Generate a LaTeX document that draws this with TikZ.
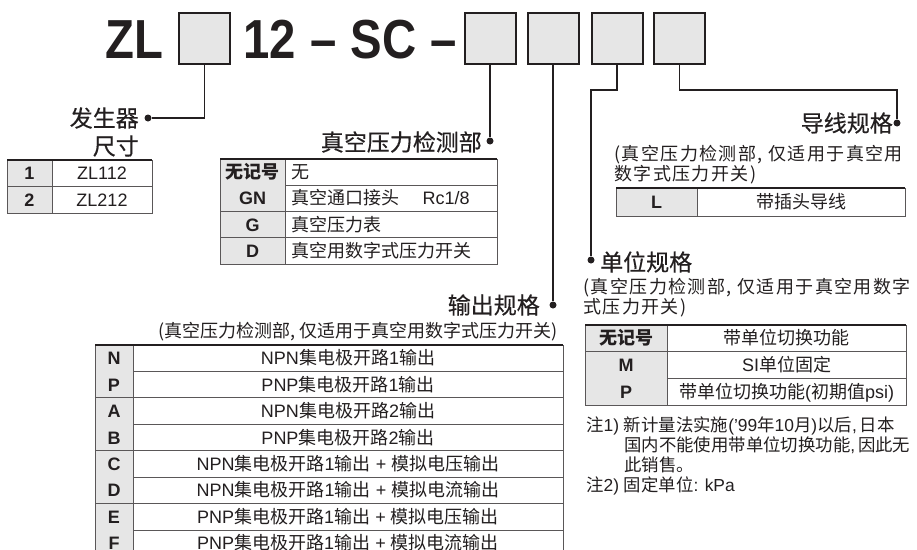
\documentclass[tikz,border=0pt]{standalone}
\usepackage{fontspec}
\setmainfont{Liberation Sans}
\newfontfamily\cjk{Noto Sans CJK SC}
\newfontfamily\cjkwide{Noto Sans CJK SC}[LetterSpace=8]
\newfontfamily\cjkhead{Noto Sans CJK SC}[FakeBold=0.4]
\newfontfamily\titlefont{Liberation Sans Bold}[FakeStretch=0.86]
\usepackage{tikz}
\usetikzlibrary{positioning}
\definecolor{ink}{HTML}{231F20}
\definecolor{keygray}{HTML}{E6E6E6}
\newcommand{\zh}[1]{{\cjk #1}}

\begin{document}
\begin{tikzpicture}[x=1pt, y=-1pt,
    codebox/.style={draw=ink, line width=2pt, fill=keygray, minimum width=51pt, minimum height=51pt, inner sep=0pt},
    title/.style={font=\titlefont\fontsize{55}{60}\selectfont, text=ink, inner sep=0pt, anchor=base},
    head/.style={font=\cjkhead\fontsize{23}{26}\selectfont, text=ink, inner sep=0pt},
    sub/.style={font=\cjk\fontsize{18}{21}\selectfont, text=ink, inner sep=0pt},
    subwide/.style={sub, font=\cjkwide\fontsize{18}{21}\selectfont},
    cell/.style={font=\fontsize{18}{20}\selectfont, text=ink, inner sep=0pt, text height=13pt, text depth=0pt},
    key/.style={cell, font=\bfseries\fontsize{18}{20}\selectfont},
    note/.style={cell, font=\fontsize{17.4}{20}\selectfont, anchor=west},
    lead/.style={draw=ink, line width=1.5pt},
    dot/.style={circle, fill=ink, inner sep=0pt, minimum size=7pt},
    rule/.style={draw=ink!75, line width=0.9pt},
    toprule/.style={draw=ink, line width=2pt}]

\clip (0,0) rectangle (917,549);
\fill[white] (0,0) rectangle (917,549);

% model code
\node[title] (zl) at (134,58) {ZL};
\node[title] (num) at (270,58) {12};
\node[title] (dasha) at (323.5,58) {–};
\node[title] (sc) at (383.5,58) {SC};
\node[title] (dashb) at (444,58) {–};

\node[codebox] (b1) at (204.5,38.5) {};
\node[codebox] (b2) at (490,38.5) {};
\node[codebox] (b3) at (553,38.5) {};
\node[codebox] (b4) at (617,38.5) {};
\node[codebox] (b5) at (679.5,38.5) {};

% leaders
\node[dot] (d1) at (148,118) {};
\node[dot] (d2) at (490,141) {};
\node[dot] (d3) at (553,305) {};
\node[dot] (d4) at (591,260) {};
\node[dot] (d5) at (897,123) {};

\draw[lead] (b1.south) |- (d1);
\draw[lead] (b2.south) -- (d2);
\draw[lead] (b3.south) -- (d3);
\draw[lead] (b4.south) -- ++(0,25) -| (d4);
\draw[lead] (b5.south) -- ++(0,25) -| (d5);

% headings
\node[head, anchor=east] (gen) at (139,118) {发生器};
\node[head, anchor=east] (gensize) at (139,146) {尺寸};
\node[head, anchor=east] (vac) at (482,142) {真空压力检测部};
\node[head, anchor=east] (out) at (540,305) {输出规格};
\node[head, anchor=east] (wire) at (893,123) {导线规格};
\node[head, anchor=west] (unit) at (600,262) {单位规格};

\node[sub, anchor=east] (outsub) at (558,332) {(真空压力检测部, 仅适用于真空用数字式压力开关)};
\node[subwide, anchor=west] (wiresuba) at (614,155) {(真空压力检测部, 仅适用于真空用};
\node[subwide, anchor=west] (wiresubb) at (614,175) {数字式压力开关)};
\node[subwide, anchor=west] (unitsuba) at (583,288) {(真空压力检测部, 仅适用于真空用数字};
\node[subwide, anchor=west] (unitsubb) at (583,308) {式压力开关)};

% size table
\foreach \k/\v [count=\i from 0] in {1/ZL112, 2/ZL212} {
  \fill[keygray] (7,160+26.5*\i) rectangle (52,186.5+26.5*\i);
  \node[key] (sk\i) at (29.5,173.25+26.5*\i) {\k};
  \node[cell] (sv\i) at (102,173.25+26.5*\i) {\v};
  \draw[rule] (7,186.5+26.5*\i) -- (152,186.5+26.5*\i);
}
\draw[rule] (7,160) rectangle (152,213);
\draw[rule] (52,160) -- (52,213);
\draw[toprule] (7,160) -- (152,160);

% vacuum port table
\foreach \k/\v [count=\i from 0] in {\zh{无记号}/\zh{无}, GN/{\zh{真空通口接头}\hspace{1.3em}Rc1/8}, G/\zh{真空压力表}, D/\zh{真空用数字式压力开关}} {
  \fill[keygray] (220,159+26.25*\i) rectangle (285,185.25+26.25*\i);
  \node[key] (vk\i) at (252.5,172.1+26.25*\i) {\k};
  \node[cell, anchor=west] (vv\i) at (291,172.1+26.25*\i) {\v};
  \draw[rule] (220,185.25+26.25*\i) -- (497,185.25+26.25*\i);
}
\draw[rule] (220,159) rectangle (497,264);
\draw[rule] (285,159) -- (285,264);
\draw[toprule] (220,159) -- (497,159);

% lead wire table
\fill[keygray] (616,188) rectangle (697,216);
\node[key] (wk) at (656.5,202) {L};
\node[cell] (wv) at (801,202) {\zh{带插头导线}};
\draw[rule] (616,188) rectangle (905,216);
\draw[rule] (697,188) -- (697,216);
\draw[toprule] (616,188) -- (905,188);

% unit table
\foreach \k/\v [count=\i from 0] in {\zh{无记号}/\zh{带单位切换功能}, M/{SI\zh{单位固定}}, P/{\zh{带单位切换功能}(\zh{初期值}psi)}} {
  \fill[keygray] (585,325+26.7*\i) rectangle (667,351.7+26.7*\i);
  \node[key] (uk\i) at (626,338.3+26.7*\i) {\k};
  \node[cell] (uv\i) at (786.5,338.3+26.7*\i) {\v};
  \draw[rule] (585,351.7+26.7*\i) -- (906,351.7+26.7*\i);
}
\draw[rule] (585,325) rectangle (906,405);
\draw[rule] (667,325) -- (667,405);
\draw[toprule] (585,325) -- (906,325);

% notes
\node[note] (n1) at (586,425) {\zh{注}1)\ \zh{新计量法实施}('99\zh{年}10\zh{月})\zh{以后},\,\zh{日本}};
\node[note] (n2) at (624,445) {\zh{国内不能使用带单位切换功能},\,\zh{因此无}};
\node[note] (n3) at (624,465) {\zh{此销售。}};
\node[note] (n4) at (586,485) {\zh{注}2)\ \zh{固定单位}: kPa};

% output table
\foreach \k/\v [count=\i from 0] in {
    N/{NPN\zh{集电极开路}1\zh{输出}},
    P/{PNP\zh{集电极开路}1\zh{输出}},
    A/{NPN\zh{集电极开路}2\zh{输出}},
    B/{PNP\zh{集电极开路}2\zh{输出}},
    C/{NPN\zh{集电极开路}1\zh{输出} + \zh{模拟电压输出}},
    D/{NPN\zh{集电极开路}1\zh{输出} + \zh{模拟电流输出}},
    E/{PNP\zh{集电极开路}1\zh{输出} + \zh{模拟电压输出}},
    F/{PNP\zh{集电极开路}1\zh{输出} + \zh{模拟电流输出}}} {
  \fill[keygray] (95,345+26.45*\i) rectangle (133,371.45+26.45*\i);
  \node[key] (ok\i) at (114,358.2+26.45*\i) {\k};
  \node[cell] (ov\i) at (348,358.2+26.45*\i) {\v};
  \draw[rule] (95,371.45+26.45*\i) -- (563,371.45+26.45*\i);
}
\draw[rule] (95,345) -- (95,560) (563,345) -- (563,560) (133,345) -- (133,560);
\draw[toprule] (95,345) -- (563,345);
\end{tikzpicture}
\end{document}
